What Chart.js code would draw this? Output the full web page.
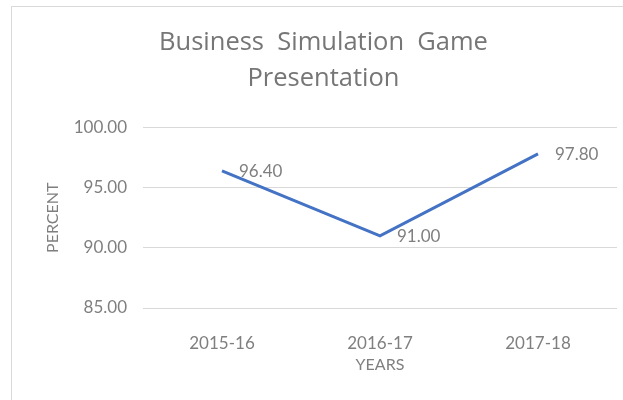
<!DOCTYPE html>
<html>
<head>
<meta charset="utf-8">
<script src="https://cdn.jsdelivr.net/npm/chart.js@4.4.1/dist/chart.umd.min.js"></script>
<style>
  html, body { margin: 0; padding: 0; background: #fff; }
  #wrap { position: relative; width: 623px; height: 400px; overflow: hidden; }
  #frame { position: absolute; left: 11px; top: 6px; width: 700px; height: 500px;
           border: 1.5px solid #d9d9d9; box-sizing: border-box; }
  #canvas { position: absolute; left: 0; top: 0; }
</style>
</head>
<body>
<div id="wrap">
  <div id="frame"></div>
  <canvas id="canvas" width="623" height="400"></canvas>
</div>
<script>
const years = ['2015-16', '2016-17', '2017-18']
const percent = [96.40, 91.00, 97.80]
const yTicks = [85, 90, 95, 100]

const grey = '#7f7f7f'
const font = 'Lato'

// labels to the right of each point, like excel's "right" position
const pointLabels = {
  id: 'pointLabels',
  afterDatasetsDraw(chart) {
    const ctx = chart.ctx
    const meta = chart.getDatasetMeta(0)
    ctx.save()
    ctx.font = '17px ' + font
    ctx.fillStyle = grey
    ctx.textAlign = 'left'
    ctx.textBaseline = 'middle'
    meta.data.forEach((pt, i) => {
      ctx.fillText(percent[i].toFixed(2), pt.x + 17, pt.y + 1)
    })
    ctx.restore()
  }
}

const canvas = document.getElementById('canvas')
new Chart(canvas, {
  type: 'line',
  data: {
    labels: years,
    datasets: [{
      data: percent,
      borderColor: '#4472c4',
      borderWidth: 3,
      pointRadius: 0,
      tension: 0
    }]
  },
  options: {
    responsive: false,
    animation: false,
    layout: { padding: { left: 30, right: 6, top: 0, bottom: 0 } },
    plugins: {
      legend: { display: false },
      tooltip: { enabled: false },
      title: {
        display: true,
        text: ['Business  Simulation  Game', 'Presentation'],
        color: '#767676',
        font: { family: 'Open Sans', size: 25.5, weight: 'normal', lineHeight: 1.44 },
        padding: { top: 24, bottom: 30 }
      }
    },
    scales: {
      x: {
        offset: true,
        grid: { display: false },
        border: { display: false },
        ticks: { color: grey, padding: 17, font: { family: font, size: 17 } },
        title: {
          display: true, text: 'YEARS', color: grey,
          font: { family: font, size: 16 }, padding: { bottom: 26 }
        },
        afterFit(scale) { scale.height = 92 }
      },
      y: {
        min: 85,
        max: 100,
        afterBuildTicks(scale) { scale.ticks = yTicks.map(v => ({ value: v })) },
        grid: { color: '#d9d9d9', lineWidth: 1, drawTicks: false },
        border: { display: false },
        ticks: {
          color: grey, padding: 16, font: { family: font, size: 17 },
          callback: v => v.toFixed(2)
        },
        title: {
          display: true, text: 'PERCENT', color: grey,
          font: { family: font, size: 16 }, padding: { top: 13 }
        },
        afterFit(scale) { scale.width = 113 }
      }
    }
  },
  plugins: [pointLabels]
})
</script>
</body>
</html>
